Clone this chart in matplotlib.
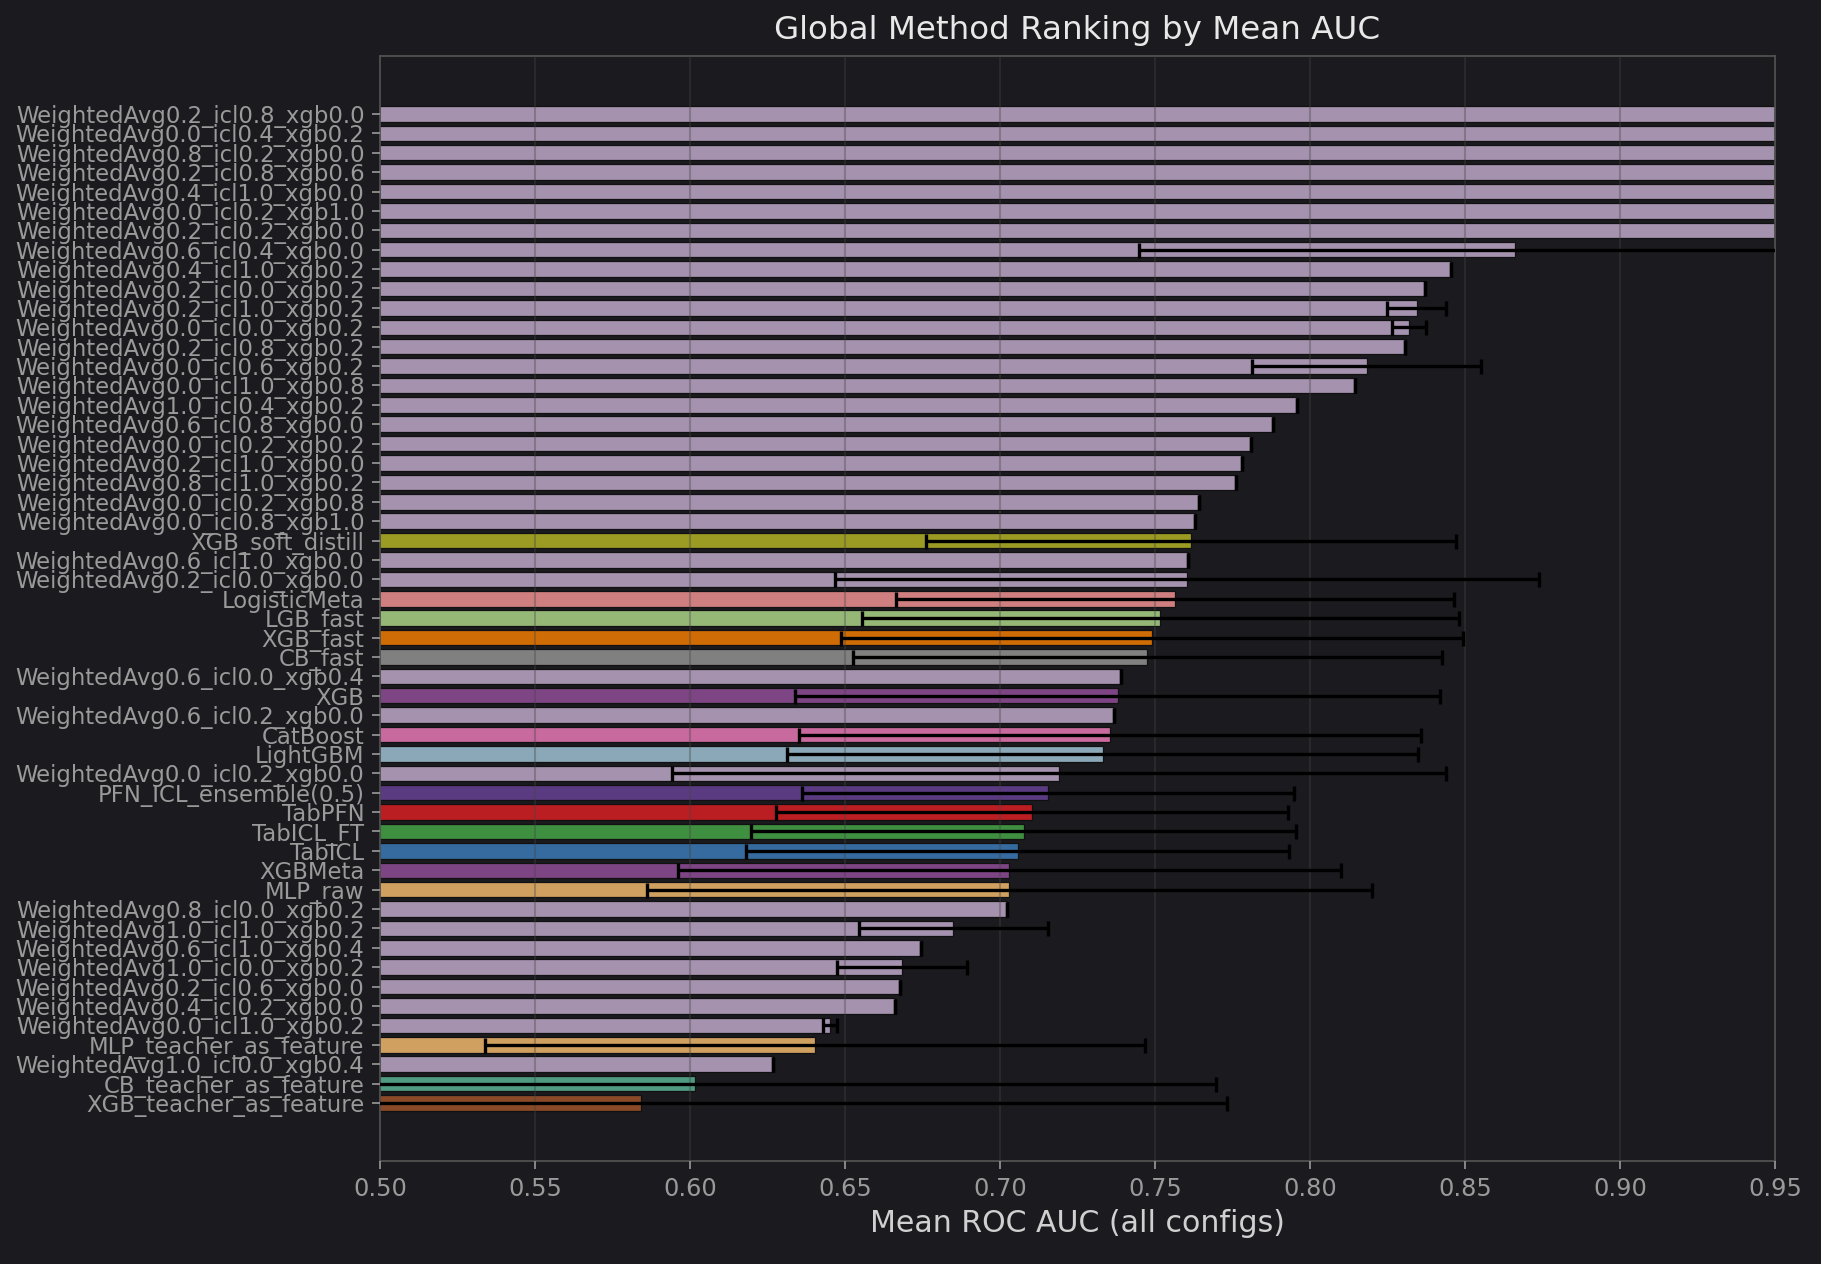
import matplotlib
matplotlib.use('Agg')
import matplotlib.pyplot as plt
import numpy as np

# Methods, top to bottom (sorted by mean AUC)
methods = [
    'WeightedAvg0.2_icl0.8_xgb0.0', 'WeightedAvg0.0_icl0.4_xgb0.2', 'WeightedAvg0.8_icl0.2_xgb0.0',
    'WeightedAvg0.2_icl0.8_xgb0.6', 'WeightedAvg0.4_icl1.0_xgb0.0', 'WeightedAvg0.0_icl0.2_xgb1.0',
    'WeightedAvg0.2_icl0.2_xgb0.0', 'WeightedAvg0.6_icl0.4_xgb0.0', 'WeightedAvg0.4_icl1.0_xgb0.2',
    'WeightedAvg0.2_icl0.0_xgb0.2', 'WeightedAvg0.2_icl1.0_xgb0.2', 'WeightedAvg0.0_icl0.0_xgb0.2',
    'WeightedAvg0.2_icl0.8_xgb0.2', 'WeightedAvg0.0_icl0.6_xgb0.2', 'WeightedAvg0.0_icl1.0_xgb0.8',
    'WeightedAvg1.0_icl0.4_xgb0.2', 'WeightedAvg0.6_icl0.8_xgb0.0', 'WeightedAvg0.0_icl0.2_xgb0.2',
    'WeightedAvg0.2_icl1.0_xgb0.0', 'WeightedAvg0.8_icl1.0_xgb0.2', 'WeightedAvg0.0_icl0.2_xgb0.8',
    'WeightedAvg0.0_icl0.8_xgb1.0', 'XGB_soft_distill', 'WeightedAvg0.6_icl1.0_xgb0.0',
    'WeightedAvg0.2_icl0.0_xgb0.0', 'LogisticMeta', 'LGB_fast', 'XGB_fast', 'CB_fast',
    'WeightedAvg0.6_icl0.0_xgb0.4', 'XGB', 'WeightedAvg0.6_icl0.2_xgb0.0', 'CatBoost', 'LightGBM',
    'WeightedAvg0.0_icl0.2_xgb0.0', 'PFN_ICL_ensemble(0.5)', 'TabPFN', 'TabICL_FT', 'TabICL',
    'XGBMeta', 'MLP_raw', 'WeightedAvg0.8_icl0.0_xgb0.2', 'WeightedAvg1.0_icl1.0_xgb0.2',
    'WeightedAvg0.6_icl1.0_xgb0.4', 'WeightedAvg1.0_icl0.0_xgb0.2', 'WeightedAvg0.2_icl0.6_xgb0.0',
    'WeightedAvg0.4_icl0.2_xgb0.0', 'WeightedAvg0.0_icl1.0_xgb0.2', 'MLP_teacher_as_feature',
    'WeightedAvg1.0_icl0.0_xgb0.4', 'CB_teacher_as_feature', 'XGB_teacher_as_feature',
]

mean_auc = [
    1.0, 1.0, 1.0, 1.0, 1.0, 1.0, 1.0, 0.866, 0.8455, 0.837, 0.8345, 0.832, 0.8305, 0.8183,
    0.8145, 0.7957, 0.7882, 0.7809, 0.778, 0.776, 0.7641, 0.7628, 0.7617, 0.7608, 0.7603,
    0.7565, 0.7517, 0.749, 0.7475, 0.739, 0.738, 0.7367, 0.7355, 0.7332, 0.719, 0.7156,
    0.7103, 0.7076, 0.7057, 0.703, 0.703, 0.7023, 0.685, 0.6745, 0.6684, 0.6676, 0.6662,
    0.6452, 0.6403, 0.6268, 0.6016, 0.5843,
]

std_auc = [
    0, 0, 0, 0, 0, 0, 0, 0.121, 0, 0, 0.0095, 0.0054, 0, 0.037, 0, 0, 0, 0, 0, 0, 0, 0,
    0.0855, 0, 0.1135, 0.0899, 0.0963, 0.1003, 0.095, 0, 0.104, 0, 0.1002, 0.1018, 0.1248,
    0.0794, 0.0825, 0.0878, 0.0876, 0.1069, 0.1169, 0, 0.0306, 0, 0.0209, 0, 0, 0.0023,
    0.1066, 0, 0.168, 0.189,
]

# colour per base method, weighted averages share one colour
method_colors = {
    'XGB_soft_distill': '#9b9b24', 'LogisticMeta': '#cf7f7f', 'LGB_fast': '#96b877',
    'XGB_fast': '#d06c05', 'CB_fast': '#808080', 'XGB': '#7e4585', 'CatBoost': '#c86a9e',
    'LightGBM': '#8aa8b8', 'PFN_ICL_ensemble(0.5)': '#5a3a80', 'TabPFN': '#bb1e22',
    'TabICL_FT': '#3f8f41', 'TabICL': '#356b9e', 'XGBMeta': '#7e4585', 'MLP_raw': '#d0a060',
    'MLP_teacher_as_feature': '#d0a060', 'CB_teacher_as_feature': '#4f9a80',
    'XGB_teacher_as_feature': '#8a4a28',
}
weighted_color = '#a592ae'

BG = '#1b1b1f'
colors = [method_colors.get(m, weighted_color) for m in methods]
y = np.arange(len(methods))

fig = plt.figure(figsize=(12.14, 8.427), dpi=150, facecolor=BG)
ax = fig.add_axes([0.2087, 0.0815, 0.766, 0.8742])
ax.set_facecolor(BG)

ax.barh(y, mean_auc, height=0.8, color=colors, edgecolor='#111111', linewidth=0.6, zorder=2)
ax.errorbar(mean_auc, y, xerr=std_auc, fmt='none', ecolor='black', elinewidth=1.6,
            capsize=3.6, capthick=1.6, zorder=4)

ax.set_yticks(y)
ax.set_yticklabels(methods, fontsize=10.9, color='#9a9a9a')
ax.invert_yaxis()
ax.set_xlim(0.5, 0.95)
ax.set_xticks(np.arange(0.5, 0.951, 0.05))
ax.set_xticklabels([f'{v:.2f}' for v in np.arange(0.5, 0.951, 0.05)], fontsize=11.5, color='#9a9a9a')
ax.tick_params(colors='#9a9a9a', length=4)

ax.grid(axis='x', color='#444444', alpha=0.35, linewidth=1.0, zorder=3)
ax.set_axisbelow(False)
for s in ax.spines.values():
    s.set_color('#555555')

ax.set_xlabel('Mean ROC AUC (all configs)', fontsize=14.4, color='#d0d0d0')
ax.set_title('Global Method Ranking by Mean AUC', fontsize=15.6, color='#e8e8e8', pad=8)

fig.savefig('out.png', dpi=150, facecolor=BG)
